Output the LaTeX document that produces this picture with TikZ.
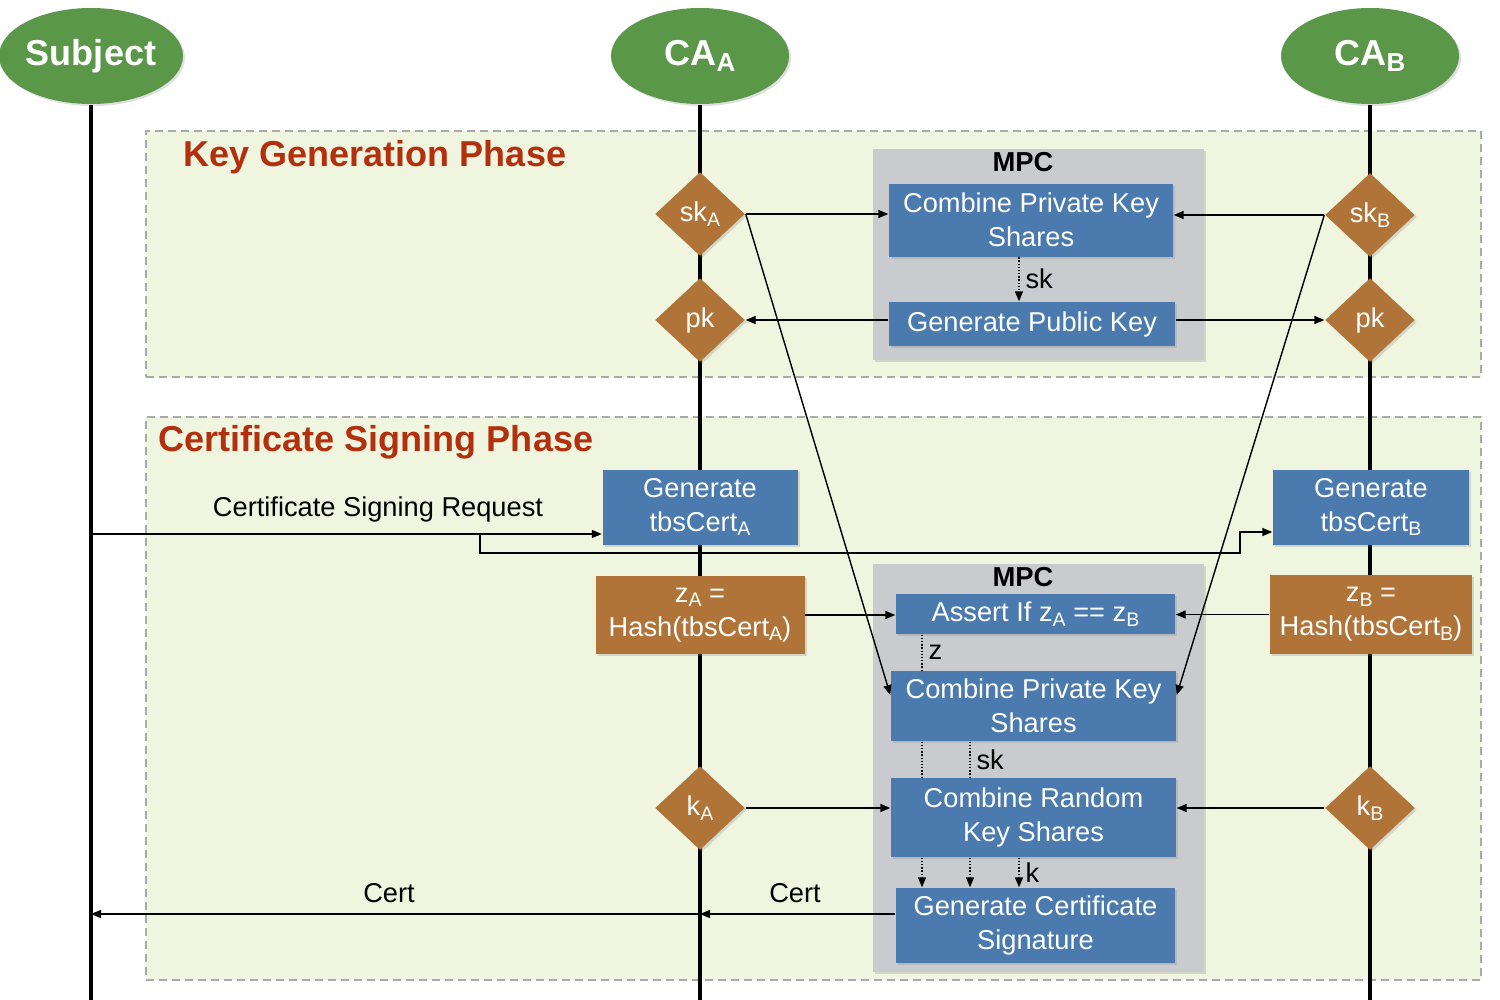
\documentclass[tikz,border=0pt]{standalone}
\usepackage{fontspec}
\usepackage{graphicx}
\setmainfont{Liberation Sans}
\usetikzlibrary{shapes.geometric, positioning, arrows.meta, calc, shadows}

\definecolor{lifegreen}{RGB}{90,151,72}
\definecolor{stepblue}{RGB}{74,122,174}
\definecolor{keybrown}{RGB}{176,116,56}
\definecolor{mpcgray}{RGB}{202,203,206}
\definecolor{phasefill}{RGB}{239,245,222}
\definecolor{phaseline}{RGB}{170,170,170}
\definecolor{phasered}{RGB}{178,48,14}
\newcommand\idx[1]{\raisebox{-0.3ex}{\scalebox{0.72}{#1}}}

\begin{document}
\begin{tikzpicture}[x=0.2mm, y=-0.2mm, >={Triangle[length=2mm,width=1.6mm]}, line width=0.8pt, font=\fontsize{15.5}{19.4}\selectfont]
\tikzset{actor/.style={ellipse, fill=lifegreen, text=white, font=\fontsize{20.5}{24}\selectfont\bfseries, minimum width=35.6mm, minimum height=19.2mm, inner sep=0, soft},
phase/.style={draw=phaseline, dash pattern=on 1.6mm off 1mm, line width=0.4mm, fill=phasefill, inner sep=0},
title/.style={text=phasered, font=\fontsize{20.5}{24}\selectfont\bfseries, anchor=west, inner sep=0},
mpc/.style={fill=mpcgray, inner sep=0, soft},
mpclabel/.style={font=\fontsize{15.6}{18}\selectfont\bfseries},
op/.style={fill=stepblue, text=white, align=center, inner sep=0, soft},
share/.style={diamond, fill=keybrown, text=white, minimum width=18mm, minimum height=16.8mm, inner sep=0, soft},
hash/.style={fill=keybrown, text=white, align=center, inner sep=0, soft},
soft/.style={drop shadow={opacity=0.25, shadow xshift=0.4mm, shadow yshift=-0.4mm}},
dots/.style={densely dotted},
life/.style={line width=0.8mm}}
\useasboundingbox (0,0) rectangle (1500,1000);
% phases
\node[phase, minimum width=267mm, minimum height=49.2mm] (keygen) at (813.5,254) {};
\node[phase, minimum width=267mm, minimum height=112.6mm] (signing) at (813.5,698.5) {};
\node[title] (keygenT) at (183,157) {Key Generation Phase};
\node[title] (signingT) at (158,442) {Certificate Signing Phase};
% parties and lifelines
\node[actor] (subj) at (91,56) {Subject};
\node[actor] (caA) at (700,56) {CA\idx{A}};
\node[actor] (caB) at (1370,56) {CA\idx{B}};
\coordinate (bottom) at (0,1000);
\draw[life] (subj.south) -- (subj.south |- bottom);
\draw[life] (caA.south) -- (caA.south |- bottom);
\draw[life] (caB.south) -- (caB.south |- bottom);
% key generation
\node[mpc, minimum width=66.2mm, minimum height=42.2mm] (mpc1) at (1038.5,254.5) {};
\node[mpclabel] (mpc1T) at (1023,162) {MPC};
\node[op, minimum width=56.8mm, minimum height=14.6mm] (cpk1) at (1031,220) {Combine Private Key\\Shares};
\node[op, minimum width=57.2mm, minimum height=8.8mm] (gpk) at (1032,324) {Generate Public Key};
\node[share] (skA) at (700,214) {sk\idx{A}};
\node[share] (pkA) at (700,320) {pk};
\node[share] (skB) at (1370,215) {sk\idx{B}};
\node[share] (pkB) at (1370,320) {pk};
\draw[->] (skA.east) -- (skA.east -| cpk1.west);
\draw[->] (skB.west) -- (skB.west -| cpk1.east);
\draw[->] (pkA.east -| gpk.west) -- (pkA.east);
\draw[->] (pkB.west -| gpk.east) -- (pkB.west);
\draw[->, dots] ([xshift=-2.4mm]cpk1.south) -- node[right] (skT1) {sk} ([xshift=-2.4mm]cpk1.south |- gpk.north);
% certificate signing
\node[op, minimum width=39mm, minimum height=15mm] (tbsA) at (700,507) {Generate\\tbsCert\idx{A}};
\node[op, minimum width=39.2mm, minimum height=15mm] (tbsB) at (1371,507) {Generate\\tbsCert\idx{B}};
\node[hash, minimum width=41.8mm, minimum height=15.6mm] (hashA) at (700,615) {z\idx{A} =\\Hash(tbsCert\idx{A})};
\node[hash, minimum width=40.4mm, minimum height=15.8mm] (hashB) at (1371,614.5) {z\idx{B} =\\Hash(tbsCert\idx{B})};
\node[share] (kA) at (700,808) {k\idx{A}};
\node[share] (kB) at (1370,808) {k\idx{B}};
\node[mpc, minimum width=66.2mm, minimum height=81.6mm] (mpc2) at (1038.5,768) {};
\node[mpclabel] (mpc2T) at (1023,577) {MPC};
\node[op, minimum width=55.8mm, minimum height=8mm] (assert) at (1035.5,614) {Assert If z\idx{A} == z\idx{B}};
\node[op, minimum width=57mm, minimum height=14mm] (cpk2) at (1033.5,706) {Combine Private Key\\Shares};
\node[op, minimum width=57mm, minimum height=15.8mm] (crks) at (1033.5,817.5) {Combine Random\\Key Shares};
\node[op, minimum width=55.8mm, minimum height=15mm] (gcs) at (1035.5,925.5) {Generate Certificate\\Signature};
\coordinate (split) at (480,534);
\coordinate (bend) at (1240,553);
\draw[->] ([yshift=-5.4mm]tbsA.west -| subj.south) -- ([yshift=-5.4mm]tbsA.west);
\node (csrT) at (378,509) {Certificate Signing Request};
\draw[->] (split) |- (bend) |- ([yshift=-5mm]tbsB.west);
\draw[->] (hashA.east) -- (hashA.east -| assert.west);
\draw[->] (hashB.west) -- (hashB.west -| assert.east);
\draw[->] (kA.east) -- (kA.east -| crks.west);
\draw[->] (kB.west) -- (kB.west -| crks.east);
\draw[->] (skA.east) -- ([yshift=2.2mm]cpk2.west);
\draw[->] (skB.west) -- ([yshift=2.2mm]cpk2.east);
% inside the second MPC
\coordinate (colZ) at (922,0); \coordinate (colS) at (970,0); \coordinate (colK) at (1019,0);
\draw[dots] (assert.south -| colZ) -- node[right] (zT) {z} (cpk2.north -| colZ);
\draw[dots] (cpk2.south -| colZ) -- (crks.north -| colZ);
\draw[dots] (cpk2.south -| colS) -- node[right] (skT2) {sk} (crks.north -| colS);
\draw[dots, ->] (crks.south -| colZ) -- (gcs.north -| colZ);
\draw[dots, ->] (crks.south -| colS) -- (gcs.north -| colS);
\draw[dots, ->] (crks.south -| colK) -- node[right] (kT) {k} (gcs.north -| colK);
% certificate back to the subject
\draw[->] ([yshift=2.3mm]gcs.west) -- ([yshift=2.3mm]gcs.west -| caA.south);
\draw[->] ([yshift=2.3mm]gcs.west -| caA.south) -- ([yshift=2.3mm]gcs.west -| subj.south);
\node (certA) at (795,893) {Cert};
\node (certS) at (389,893) {Cert};
\end{tikzpicture}
\end{document}
